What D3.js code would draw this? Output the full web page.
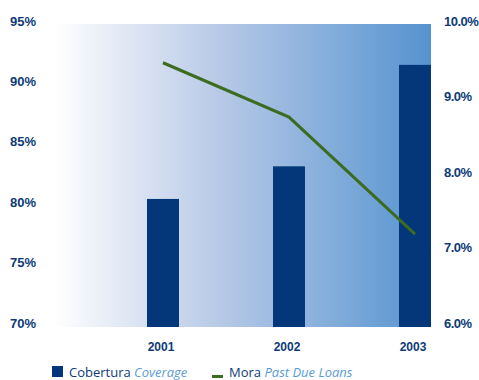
<!DOCTYPE html>
<html>
<head>
<meta charset="utf-8">
<script src="https://cdn.jsdelivr.net/npm/d3@7/dist/d3.min.js"></script>
<style>
  html, body { margin: 0; padding: 0; background: #fff; }
  svg { display: block; font-family: "Open Sans", "DejaVu Sans", sans-serif; }
</style>
</head>
<body>
<svg id="chart" width="479" height="380"></svg>
<script>
// Coverage (bars, left axis) and past-due loans (line, right axis) by year
const years = ["2001", "2002", "2003"];
const coverage = [80.6, 83.3, 91.7];
const pastDue = [9.5, 8.78, 7.23];
const leftTicks = [70, 75, 80, 85, 90, 95];
const rightTicks = [6, 7, 8, 9, 10];

const svg = d3.select("#chart");
const plot = { left: 53, right: 431, top: 24, bottom: 327 };
const navy = "#04367a";
const textColor = "#0e3b78";

const x = d3.scaleBand().domain(years).range([plot.left, plot.right]).padding(0);
const barW = 32;
const barX = d => x(d) + x.bandwidth() - barW;
const barCx = d => barX(d) + barW / 2;

const yL = d3.scaleLinear().domain([70, 95]).range([plot.bottom, plot.top + 1]);
const yR = d3.scaleLinear().domain([6, 10]).range([plot.bottom, plot.top + 1]);

// background gradient
const defs = svg.append("defs");
const grad = defs.append("linearGradient").attr("id", "bg")
  .attr("x1", "0%").attr("x2", "100%").attr("y1", "0%").attr("y2", "0%");
grad.append("stop").attr("offset", "0%").attr("stop-color", "#ffffff");
grad.append("stop").attr("offset", "45%").attr("stop-color", "#b6c8e6");
grad.append("stop").attr("offset", "100%").attr("stop-color", "#5493cf");

svg.append("rect")
  .attr("x", plot.left).attr("y", plot.top)
  .attr("width", plot.right - plot.left).attr("height", plot.bottom - plot.top)
  .attr("fill", "url(#bg)");

// bars
svg.append("g").selectAll("rect").data(years).join("rect")
  .attr("x", d => barX(d))
  .attr("y", (d, i) => yL(coverage[i]))
  .attr("width", barW)
  .attr("height", (d, i) => plot.bottom - yL(coverage[i]))
  .attr("fill", navy);

// line
const line = d3.line().x(d => barCx(d[0])).y(d => yR(d[1]));
svg.append("path")
  .datum(years.map((y, i) => [y, pastDue[i]]))
  .attr("d", line)
  .attr("fill", "none")
  .attr("stroke", "#3b6c1f")
  .attr("stroke-width", 3);

// left axis
const leftAxis = d3.axisLeft(yL).tickValues(leftTicks).tickSize(0).tickFormat(d => d + "%");
const gL = svg.append("g").attr("transform", "translate(10,0)").call(leftAxis);
gL.select(".domain").remove();
gL.selectAll("text")
  .attr("x", 0).attr("dy", 0)
  .attr("text-anchor", "start")
  .attr("fill", textColor)
  .style("font-size", "13px").style("font-weight", "700");

// right axis
const rightAxis = d3.axisRight(yR).tickValues(rightTicks).tickSize(0)
  .tickFormat(d => d3.format(".1f")(d) + "%");
const gR = svg.append("g").attr("transform", "translate(444,0)").call(rightAxis);
gR.select(".domain").remove();
gR.selectAll("text")
  .attr("x", 0).attr("dy", 0)
  .attr("text-anchor", "start")
  .attr("fill", textColor)
  .style("font-size", "13px").style("font-weight", "700")
  .style("letter-spacing", "-0.5px");

// year axis
const bottomAxis = d3.axisBottom(x).tickSize(0);
const gB = svg.append("g").attr("transform", "translate(0,351)").call(bottomAxis);
gB.select(".domain").remove();
gB.selectAll(".tick").attr("transform", d => `translate(${barCx(d) - 2},0)`);
gB.selectAll("text")
  .attr("y", 0).attr("dy", 0)
  .attr("fill", textColor)
  .style("font-size", "12px").style("font-weight", "700");

// legend
const lg = svg.append("g").style("font-size", "13px");
lg.append("rect").attr("x", 52).attr("y", 366).attr("width", 11).attr("height", 11).attr("fill", navy);
const t1 = lg.append("text").attr("x", 69).attr("y", 377).attr("fill", textColor);
t1.append("tspan").text("Cobertura ");
t1.append("tspan").attr("fill", "#5b9bd5").style("font-style", "italic").text("Coverage");
lg.append("rect").attr("x", 212).attr("y", 375).attr("width", 11).attr("height", 3).attr("fill", "#3b6c1f");
const t2 = lg.append("text").attr("x", 229).attr("y", 377).attr("fill", textColor);
t2.append("tspan").text("Mora ");
t2.append("tspan").attr("fill", "#5b9bd5").style("font-style", "italic").text("Past Due Loans");
</script>
</body>
</html>
